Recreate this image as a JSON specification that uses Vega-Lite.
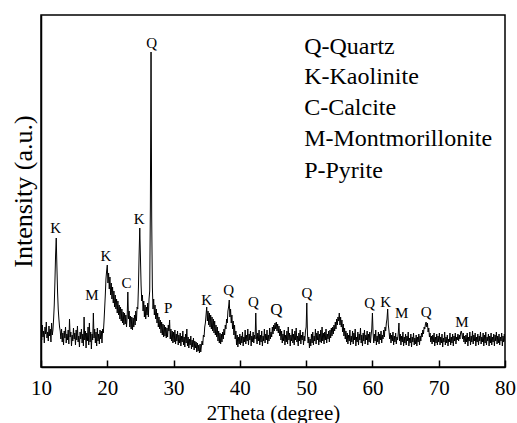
{
  "$schema": "https://vega.github.io/schema/vega-lite/v6.json",
  "width": 464,
  "height": 352,
  "autosize": "none",
  "padding": {"left": 41, "top": 15, "right": 12, "bottom": 56},
  "background": "white",
  "config": {
    "font": "Liberation Serif",
    "view": {"stroke": "black", "strokeWidth": 1.5},
    "axis": {"grid": false, "domainColor": "black", "domainWidth": 1.5, "tickColor": "black", "labelColor": "black", "titleColor": "black", "labelFont": "Liberation Serif", "titleFont": "Liberation Serif", "titleFontWeight": "normal"}
  },
  "datasets": {
    "xrd": [
{"x":10.0,"y":38},{"x":10.1,"y":27},{"x":10.2,"y":42},{"x":10.3,"y":30},{"x":10.4,"y":36},{"x":10.5,"y":24},{"x":10.6,"y":40},{"x":10.7,"y":33},{"x":10.8,"y":45},{"x":10.9,"y":29},
{"x":11.0,"y":35},{"x":11.1,"y":26},{"x":11.2,"y":41},{"x":11.3,"y":31},{"x":11.4,"y":38},{"x":11.5,"y":25},{"x":11.6,"y":44},{"x":11.7,"y":32},{"x":11.8,"y":37},{"x":11.9,"y":48},
{"x":12.0,"y":62},{"x":12.1,"y":85},{"x":12.2,"y":112},{"x":12.3,"y":129},{"x":12.4,"y":100},{"x":12.5,"y":75},{"x":12.6,"y":58},{"x":12.7,"y":48},{"x":12.8,"y":40},{"x":12.9,"y":36},
{"x":13.0,"y":28},{"x":13.1,"y":38},{"x":13.2,"y":25},{"x":13.3,"y":34},{"x":13.4,"y":22},{"x":13.5,"y":36},{"x":13.6,"y":29},{"x":13.7,"y":40},{"x":13.8,"y":24},{"x":13.9,"y":33},
{"x":14.0,"y":27},{"x":14.1,"y":37},{"x":14.2,"y":23},{"x":14.3,"y":48},{"x":14.4,"y":30},{"x":14.5,"y":35},{"x":14.6,"y":21},{"x":14.7,"y":32},{"x":14.8,"y":26},{"x":14.9,"y":39},
{"x":15.0,"y":28},{"x":15.1,"y":34},{"x":15.2,"y":22},{"x":15.3,"y":37},{"x":15.4,"y":27},{"x":15.5,"y":41},{"x":15.6,"y":25},{"x":15.7,"y":31},{"x":15.8,"y":20},{"x":15.9,"y":35},
{"x":16.0,"y":28},{"x":16.1,"y":38},{"x":16.2,"y":24},{"x":16.3,"y":33},{"x":16.4,"y":21},{"x":16.5,"y":50},{"x":16.6,"y":27},{"x":16.7,"y":36},{"x":16.8,"y":19},{"x":16.9,"y":34},
{"x":17.0,"y":26},{"x":17.1,"y":40},{"x":17.2,"y":22},{"x":17.3,"y":44},{"x":17.4,"y":25},{"x":17.5,"y":35},{"x":17.6,"y":18},{"x":17.7,"y":33},{"x":17.8,"y":27},{"x":17.9,"y":54},
{"x":18.0,"y":29},{"x":18.1,"y":38},{"x":18.2,"y":24},{"x":18.3,"y":35},{"x":18.4,"y":21},{"x":18.5,"y":39},{"x":18.6,"y":26},{"x":18.7,"y":33},{"x":18.8,"y":23},{"x":18.9,"y":37},
{"x":19.0,"y":28},{"x":19.1,"y":36},{"x":19.2,"y":24},{"x":19.3,"y":38},{"x":19.4,"y":34},{"x":19.5,"y":45},{"x":19.6,"y":58},{"x":19.7,"y":72},{"x":19.8,"y":88},{"x":19.9,"y":96},
{"x":20.0,"y":102},{"x":20.1,"y":84},{"x":20.2,"y":94},{"x":20.3,"y":78},{"x":20.4,"y":90},{"x":20.5,"y":72},{"x":20.6,"y":84},{"x":20.7,"y":68},{"x":20.8,"y":80},{"x":20.9,"y":64},
{"x":21.0,"y":76},{"x":21.1,"y":60},{"x":21.2,"y":72},{"x":21.3,"y":58},{"x":21.4,"y":68},{"x":21.5,"y":54},{"x":21.6,"y":66},{"x":21.7,"y":52},{"x":21.8,"y":62},{"x":21.9,"y":48},
{"x":22.0,"y":60},{"x":22.1,"y":46},{"x":22.2,"y":58},{"x":22.3,"y":44},{"x":22.4,"y":55},{"x":22.5,"y":42},{"x":22.6,"y":54},{"x":22.7,"y":43},{"x":22.8,"y":52},{"x":22.9,"y":40},
{"x":23.0,"y":50},{"x":23.1,"y":75},{"x":23.2,"y":48},{"x":23.3,"y":56},{"x":23.4,"y":40},{"x":23.5,"y":51},{"x":23.6,"y":38},{"x":23.7,"y":50},{"x":23.8,"y":37},{"x":23.9,"y":49},
{"x":24.0,"y":40},{"x":24.1,"y":52},{"x":24.2,"y":42},{"x":24.3,"y":56},{"x":24.4,"y":46},{"x":24.5,"y":60},{"x":24.6,"y":58},{"x":24.7,"y":80},{"x":24.8,"y":112},{"x":24.9,"y":139},
{"x":25.0,"y":110},{"x":25.1,"y":82},{"x":25.2,"y":66},{"x":25.3,"y":72},{"x":25.4,"y":56},{"x":25.5,"y":66},{"x":25.6,"y":50},{"x":25.7,"y":62},{"x":25.8,"y":48},{"x":25.9,"y":60},
{"x":26.0,"y":52},{"x":26.1,"y":64},{"x":26.2,"y":50},{"x":26.3,"y":68},{"x":26.4,"y":76},{"x":26.5,"y":160},{"x":26.6,"y":315},{"x":26.7,"y":150},{"x":26.8,"y":80},{"x":26.9,"y":58},
{"x":27.0,"y":68},{"x":27.1,"y":52},{"x":27.2,"y":62},{"x":27.3,"y":48},{"x":27.4,"y":58},{"x":27.5,"y":44},{"x":27.6,"y":54},{"x":27.7,"y":40},{"x":27.8,"y":50},{"x":27.9,"y":38},
{"x":28.0,"y":47},{"x":28.1,"y":34},{"x":28.2,"y":45},{"x":28.3,"y":32},{"x":28.4,"y":43},{"x":28.5,"y":30},{"x":28.6,"y":42},{"x":28.7,"y":31},{"x":28.8,"y":40},{"x":28.9,"y":29},
{"x":29.0,"y":39},{"x":29.1,"y":30},{"x":29.2,"y":42},{"x":29.3,"y":36},{"x":29.4,"y":47},{"x":29.5,"y":28},{"x":29.6,"y":38},{"x":29.7,"y":26},{"x":29.8,"y":36},{"x":29.9,"y":24},
{"x":30.0,"y":35},{"x":30.1,"y":25},{"x":30.2,"y":37},{"x":30.3,"y":23},{"x":30.4,"y":33},{"x":30.5,"y":26},{"x":30.6,"y":36},{"x":30.7,"y":22},{"x":30.8,"y":32},{"x":30.9,"y":24},
{"x":31.0,"y":34},{"x":31.1,"y":21},{"x":31.2,"y":31},{"x":31.3,"y":25},{"x":31.4,"y":36},{"x":31.5,"y":22},{"x":31.6,"y":30},{"x":31.7,"y":20},{"x":31.8,"y":33},{"x":31.9,"y":24},
{"x":32.0,"y":38},{"x":32.1,"y":21},{"x":32.2,"y":30},{"x":32.3,"y":19},{"x":32.4,"y":28},{"x":32.5,"y":22},{"x":32.6,"y":31},{"x":32.7,"y":18},{"x":32.8,"y":27},{"x":32.9,"y":20},
{"x":33.0,"y":29},{"x":33.1,"y":17},{"x":33.2,"y":26},{"x":33.3,"y":19},{"x":33.4,"y":25},{"x":33.5,"y":15},{"x":33.6,"y":24},{"x":33.7,"y":16},{"x":33.8,"y":22},{"x":33.9,"y":14},
{"x":34.0,"y":23},{"x":34.1,"y":15},{"x":34.2,"y":21},{"x":34.3,"y":26},{"x":34.4,"y":22},{"x":34.5,"y":32},{"x":34.6,"y":30},{"x":34.7,"y":40},{"x":34.8,"y":44},{"x":34.9,"y":52},
{"x":35.0,"y":60},{"x":35.1,"y":46},{"x":35.2,"y":56},{"x":35.3,"y":42},{"x":35.4,"y":54},{"x":35.5,"y":40},{"x":35.6,"y":52},{"x":35.7,"y":38},{"x":35.8,"y":50},{"x":35.9,"y":36},
{"x":36.0,"y":48},{"x":36.1,"y":34},{"x":36.2,"y":46},{"x":36.3,"y":32},{"x":36.4,"y":42},{"x":36.5,"y":30},{"x":36.6,"y":40},{"x":36.7,"y":26},{"x":36.8,"y":36},{"x":36.9,"y":24},
{"x":37.0,"y":34},{"x":37.1,"y":23},{"x":37.2,"y":33},{"x":37.3,"y":25},{"x":37.4,"y":35},{"x":37.5,"y":28},{"x":37.6,"y":38},{"x":37.7,"y":32},{"x":37.8,"y":42},{"x":37.9,"y":38},
{"x":38.0,"y":48},{"x":38.1,"y":44},{"x":38.2,"y":56},{"x":38.3,"y":60},{"x":38.4,"y":67},{"x":38.5,"y":50},{"x":38.6,"y":58},{"x":38.7,"y":44},{"x":38.8,"y":52},{"x":38.9,"y":38},
{"x":39.0,"y":46},{"x":39.1,"y":32},{"x":39.2,"y":42},{"x":39.3,"y":28},{"x":39.4,"y":36},{"x":39.5,"y":22},{"x":39.6,"y":32},{"x":39.7,"y":20},{"x":39.8,"y":30},{"x":39.9,"y":23},
{"x":40.0,"y":33},{"x":40.1,"y":22},{"x":40.2,"y":31},{"x":40.3,"y":24},{"x":40.4,"y":35},{"x":40.5,"y":21},{"x":40.6,"y":30},{"x":40.7,"y":25},{"x":40.8,"y":37},{"x":40.9,"y":23},
{"x":41.0,"y":32},{"x":41.1,"y":26},{"x":41.2,"y":38},{"x":41.3,"y":22},{"x":41.4,"y":33},{"x":41.5,"y":27},{"x":41.6,"y":36},{"x":41.7,"y":21},{"x":41.8,"y":31},{"x":41.9,"y":25},
{"x":42.0,"y":35},{"x":42.1,"y":24},{"x":42.2,"y":32},{"x":42.3,"y":28},{"x":42.4,"y":54},{"x":42.5,"y":30},{"x":42.6,"y":23},{"x":42.7,"y":34},{"x":42.8,"y":26},{"x":42.9,"y":37},
{"x":43.0,"y":22},{"x":43.1,"y":32},{"x":43.2,"y":25},{"x":43.3,"y":36},{"x":43.4,"y":21},{"x":43.5,"y":31},{"x":43.6,"y":26},{"x":43.7,"y":38},{"x":43.8,"y":24},{"x":43.9,"y":33},
{"x":44.0,"y":27},{"x":44.1,"y":37},{"x":44.2,"y":23},{"x":44.3,"y":32},{"x":44.4,"y":26},{"x":44.5,"y":39},{"x":44.6,"y":28},{"x":44.7,"y":35},{"x":44.8,"y":30},{"x":44.9,"y":40},
{"x":45.0,"y":33},{"x":45.1,"y":42},{"x":45.2,"y":36},{"x":45.3,"y":44},{"x":45.4,"y":38},{"x":45.5,"y":45},{"x":45.6,"y":36},{"x":45.7,"y":43},{"x":45.8,"y":34},{"x":45.9,"y":41},
{"x":46.0,"y":31},{"x":46.1,"y":38},{"x":46.2,"y":27},{"x":46.3,"y":36},{"x":46.4,"y":24},{"x":46.5,"y":33},{"x":46.6,"y":26},{"x":46.7,"y":37},{"x":46.8,"y":22},{"x":46.9,"y":32},
{"x":47.0,"y":25},{"x":47.1,"y":36},{"x":47.2,"y":23},{"x":47.3,"y":40},{"x":47.4,"y":27},{"x":47.5,"y":34},{"x":47.6,"y":21},{"x":47.7,"y":32},{"x":47.8,"y":26},{"x":47.9,"y":38},
{"x":48.0,"y":24},{"x":48.1,"y":33},{"x":48.2,"y":22},{"x":48.3,"y":36},{"x":48.4,"y":27},{"x":48.5,"y":39},{"x":48.6,"y":25},{"x":48.7,"y":31},{"x":48.8,"y":21},{"x":48.9,"y":34},
{"x":49.0,"y":26},{"x":49.1,"y":37},{"x":49.2,"y":23},{"x":49.3,"y":32},{"x":49.4,"y":27},{"x":49.5,"y":35},{"x":49.6,"y":22},{"x":49.7,"y":31},{"x":49.8,"y":26},{"x":49.9,"y":36},
{"x":50.0,"y":40},{"x":50.1,"y":64},{"x":50.2,"y":33},{"x":50.3,"y":24},{"x":50.4,"y":30},{"x":50.5,"y":19},{"x":50.6,"y":28},{"x":50.7,"y":21},{"x":50.8,"y":33},{"x":50.9,"y":24},
{"x":51.0,"y":35},{"x":51.1,"y":22},{"x":51.2,"y":31},{"x":51.3,"y":26},{"x":51.4,"y":38},{"x":51.5,"y":23},{"x":51.6,"y":34},{"x":51.7,"y":27},{"x":51.8,"y":36},{"x":51.9,"y":22},
{"x":52.0,"y":33},{"x":52.1,"y":25},{"x":52.2,"y":37},{"x":52.3,"y":24},{"x":52.4,"y":40},{"x":52.5,"y":26},{"x":52.6,"y":34},{"x":52.7,"y":23},{"x":52.8,"y":35},{"x":52.9,"y":27},
{"x":53.0,"y":38},{"x":53.1,"y":24},{"x":53.2,"y":33},{"x":53.3,"y":28},{"x":53.4,"y":36},{"x":53.5,"y":25},{"x":53.6,"y":37},{"x":53.7,"y":29},{"x":53.8,"y":39},{"x":53.9,"y":31},
{"x":54.0,"y":40},{"x":54.1,"y":33},{"x":54.2,"y":42},{"x":54.3,"y":36},{"x":54.4,"y":45},{"x":54.5,"y":38},{"x":54.6,"y":48},{"x":54.7,"y":42},{"x":54.8,"y":50},{"x":54.9,"y":46},
{"x":55.0,"y":54},{"x":55.1,"y":42},{"x":55.2,"y":50},{"x":55.3,"y":40},{"x":55.4,"y":47},{"x":55.5,"y":35},{"x":55.6,"y":43},{"x":55.7,"y":31},{"x":55.8,"y":39},{"x":55.9,"y":28},
{"x":56.0,"y":36},{"x":56.1,"y":25},{"x":56.2,"y":34},{"x":56.3,"y":23},{"x":56.4,"y":32},{"x":56.5,"y":26},{"x":56.6,"y":37},{"x":56.7,"y":22},{"x":56.8,"y":31},{"x":56.9,"y":25},
{"x":57.0,"y":36},{"x":57.1,"y":23},{"x":57.2,"y":34},{"x":57.3,"y":27},{"x":57.4,"y":38},{"x":57.5,"y":21},{"x":57.6,"y":30},{"x":57.7,"y":25},{"x":57.8,"y":35},{"x":57.9,"y":22},
{"x":58.0,"y":33},{"x":58.1,"y":27},{"x":58.2,"y":39},{"x":58.3,"y":24},{"x":58.4,"y":32},{"x":58.5,"y":21},{"x":58.6,"y":34},{"x":58.7,"y":26},{"x":58.8,"y":37},{"x":58.9,"y":23},
{"x":59.0,"y":32},{"x":59.1,"y":27},{"x":59.2,"y":36},{"x":59.3,"y":22},{"x":59.4,"y":33},{"x":59.5,"y":25},{"x":59.6,"y":35},{"x":59.7,"y":24},{"x":59.8,"y":32},{"x":59.9,"y":38},
{"x":60.0,"y":54},{"x":60.1,"y":34},{"x":60.2,"y":24},{"x":60.3,"y":33},{"x":60.4,"y":26},{"x":60.5,"y":37},{"x":60.6,"y":22},{"x":60.7,"y":31},{"x":60.8,"y":25},{"x":60.9,"y":35},
{"x":61.0,"y":23},{"x":61.1,"y":33},{"x":61.2,"y":27},{"x":61.3,"y":36},{"x":61.4,"y":24},{"x":61.5,"y":32},{"x":61.6,"y":28},{"x":61.7,"y":37},{"x":61.8,"y":30},{"x":61.9,"y":40},
{"x":62.0,"y":36},{"x":62.1,"y":44},{"x":62.2,"y":48},{"x":62.3,"y":58},{"x":62.4,"y":42},{"x":62.5,"y":36},{"x":62.6,"y":28},{"x":62.7,"y":34},{"x":62.8,"y":24},{"x":62.9,"y":32},
{"x":63.0,"y":26},{"x":63.1,"y":35},{"x":63.2,"y":22},{"x":63.3,"y":31},{"x":63.4,"y":25},{"x":63.5,"y":34},{"x":63.6,"y":23},{"x":63.7,"y":30},{"x":63.8,"y":27},{"x":63.9,"y":34},
{"x":64.0,"y":44},{"x":64.1,"y":26},{"x":64.2,"y":33},{"x":64.3,"y":22},{"x":64.4,"y":31},{"x":64.5,"y":25},{"x":64.6,"y":35},{"x":64.7,"y":21},{"x":64.8,"y":30},{"x":64.9,"y":24},
{"x":65.0,"y":33},{"x":65.1,"y":22},{"x":65.2,"y":31},{"x":65.3,"y":26},{"x":65.4,"y":35},{"x":65.5,"y":21},{"x":65.6,"y":29},{"x":65.7,"y":24},{"x":65.8,"y":33},{"x":65.9,"y":20},
{"x":66.0,"y":30},{"x":66.1,"y":25},{"x":66.2,"y":34},{"x":66.3,"y":22},{"x":66.4,"y":29},{"x":66.5,"y":23},{"x":66.6,"y":32},{"x":66.7,"y":21},{"x":66.8,"y":30},{"x":66.9,"y":25},
{"x":67.0,"y":33},{"x":67.1,"y":22},{"x":67.2,"y":31},{"x":67.3,"y":26},{"x":67.4,"y":34},{"x":67.5,"y":30},{"x":67.6,"y":37},{"x":67.7,"y":33},{"x":67.8,"y":40},{"x":67.9,"y":38},
{"x":68.0,"y":43},{"x":68.1,"y":45},{"x":68.2,"y":40},{"x":68.3,"y":44},{"x":68.4,"y":35},{"x":68.5,"y":39},{"x":68.6,"y":30},{"x":68.7,"y":34},{"x":68.8,"y":25},{"x":68.9,"y":31},
{"x":69.0,"y":23},{"x":69.1,"y":32},{"x":69.2,"y":25},{"x":69.3,"y":34},{"x":69.4,"y":21},{"x":69.5,"y":30},{"x":69.6,"y":24},{"x":69.7,"y":33},{"x":69.8,"y":22},{"x":69.9,"y":31},
{"x":70.0,"y":25},{"x":70.1,"y":34},{"x":70.2,"y":22},{"x":70.3,"y":30},{"x":70.4,"y":24},{"x":70.5,"y":33},{"x":70.6,"y":20},{"x":70.7,"y":29},{"x":70.8,"y":25},{"x":70.9,"y":35},
{"x":71.0,"y":22},{"x":71.1,"y":30},{"x":71.2,"y":24},{"x":71.3,"y":32},{"x":71.4,"y":21},{"x":71.5,"y":28},{"x":71.6,"y":25},{"x":71.7,"y":34},{"x":71.8,"y":22},{"x":71.9,"y":30},
{"x":72.0,"y":24},{"x":72.1,"y":33},{"x":72.2,"y":21},{"x":72.3,"y":31},{"x":72.4,"y":26},{"x":72.5,"y":34},{"x":72.6,"y":23},{"x":72.7,"y":30},{"x":72.8,"y":27},{"x":72.9,"y":33},
{"x":73.0,"y":26},{"x":73.1,"y":32},{"x":73.2,"y":28},{"x":73.3,"y":34},{"x":73.4,"y":36},{"x":73.5,"y":33},{"x":73.6,"y":28},{"x":73.7,"y":34},{"x":73.8,"y":25},{"x":73.9,"y":31},
{"x":74.0,"y":23},{"x":74.1,"y":32},{"x":74.2,"y":25},{"x":74.3,"y":34},{"x":74.4,"y":21},{"x":74.5,"y":30},{"x":74.6,"y":26},{"x":74.7,"y":35},{"x":74.8,"y":22},{"x":74.9,"y":31},
{"x":75.0,"y":25},{"x":75.1,"y":36},{"x":75.2,"y":23},{"x":75.3,"y":32},{"x":75.4,"y":26},{"x":75.5,"y":34},{"x":75.6,"y":21},{"x":75.7,"y":30},{"x":75.8,"y":25},{"x":75.9,"y":33},
{"x":76.0,"y":22},{"x":76.1,"y":31},{"x":76.2,"y":26},{"x":76.3,"y":35},{"x":76.4,"y":23},{"x":76.5,"y":30},{"x":76.6,"y":25},{"x":76.7,"y":34},{"x":76.8,"y":21},{"x":76.9,"y":32},
{"x":77.0,"y":24},{"x":77.1,"y":35},{"x":77.2,"y":22},{"x":77.3,"y":30},{"x":77.4,"y":26},{"x":77.5,"y":33},{"x":77.6,"y":21},{"x":77.7,"y":31},{"x":77.8,"y":24},{"x":77.9,"y":34},
{"x":78.0,"y":22},{"x":78.1,"y":30},{"x":78.2,"y":25},{"x":78.3,"y":33},{"x":78.4,"y":21},{"x":78.5,"y":32},{"x":78.6,"y":26},{"x":78.7,"y":35},{"x":78.8,"y":23},{"x":78.9,"y":31},
{"x":79.0,"y":24},{"x":79.1,"y":33},{"x":79.2,"y":22},{"x":79.3,"y":30},{"x":79.4,"y":26},{"x":79.5,"y":34},{"x":79.6,"y":21},{"x":79.7,"y":31},{"x":79.8,"y":25},{"x":79.9,"y":33},{"x":80.0,"y":26}
    ],
    "peaks": [
      {"x":12.2,"y":139,"label":"K","size":15},
      {"x":17.7,"y":72,"label":"M","size":15},
      {"x":19.8,"y":111,"label":"K","size":15},
      {"x":22.9,"y":84,"label":"C","size":15},
      {"x":24.8,"y":148,"label":"K","size":15},
      {"x":26.7,"y":324,"label":"Q","size":15},
      {"x":29.2,"y":59,"label":"P","size":15},
      {"x":35.0,"y":67,"label":"K","size":15},
      {"x":38.3,"y":77,"label":"Q","size":15},
      {"x":42.05,"y":65,"label":"Q","size":15},
      {"x":45.5,"y":57,"label":"Q","size":17},
      {"x":50.1,"y":74,"label":"Q","size":15},
      {"x":59.6,"y":64,"label":"Q","size":15},
      {"x":62.0,"y":65,"label":"K","size":15},
      {"x":64.4,"y":54,"label":"M","size":15},
      {"x":68.1,"y":55,"label":"Q","size":15},
      {"x":73.5,"y":45,"label":"M","size":15}
    ],
    "legend": [
      {"x":49.7,"y":320.3,"label":"Q-Quartz"},
      {"x":49.7,"y":289.7,"label":"K-Kaolinite"},
      {"x":49.7,"y":258.7,"label":"C-Calcite"},
      {"x":49.7,"y":227.7,"label":"M-Montmorillonite"},
      {"x":49.7,"y":196.3,"label":"P-Pyrite"}
    ]
  },
  "layer": [
    {
      "data": {"name": "xrd"},
      "mark": {"type": "line", "color": "black", "strokeWidth": 1, "clip": true},
      "encoding": {
        "x": {"field": "x", "type": "quantitative", "scale": {"domain": [10, 80], "nice": false, "zero": false},
          "axis": {"title": "2Theta (degree)", "values": [10, 20, 30, 40, 50, 60, 70, 80], "tickSize": -7, "tickWidth": 1.5, "labelPadding": 17, "labelFontSize": 21, "titleFontSize": 21, "titlePadding": 4, "labelFlush": false}},
        "y": {"field": "y", "type": "quantitative", "scale": {"domain": [0, 352], "nice": false, "zero": false},
          "axis": {"title": "Intensity (a.u.)", "ticks": false, "labels": false, "titleFontSize": 26, "titlePadding": 5}}
      }
    },
    {
      "data": {"name": "peaks"},
      "mark": {"type": "text", "color": "black", "baseline": "middle", "align": "center", "font": "Liberation Serif"},
      "encoding": {
        "x": {"field": "x", "type": "quantitative"},
        "y": {"field": "y", "type": "quantitative"},
        "text": {"field": "label"},
        "size": {"field": "size", "type": "quantitative", "scale": null}
      }
    },
    {
      "data": {"name": "legend"},
      "mark": {"type": "text", "color": "black", "baseline": "middle", "align": "left", "fontSize": 24, "font": "Liberation Serif"},
      "encoding": {
        "x": {"field": "x", "type": "quantitative"},
        "y": {"field": "y", "type": "quantitative"},
        "text": {"field": "label"}
      }
    }
  ]
}
